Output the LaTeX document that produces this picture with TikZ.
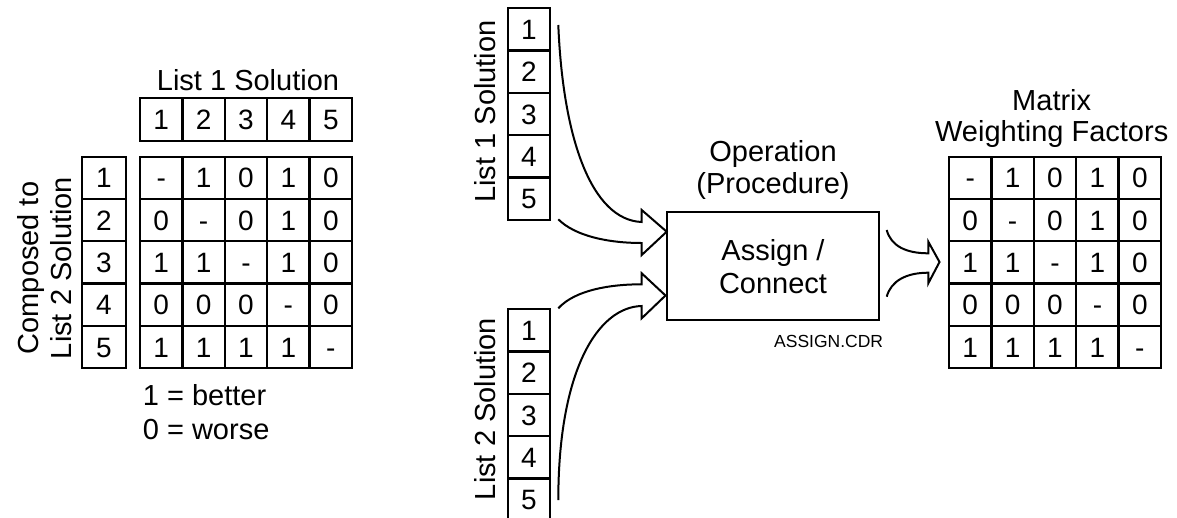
\documentclass[tikz,border=0pt]{standalone}
\usepackage{fontspec}
\setmainfont{Liberation Sans}
\begin{document}
\begin{tikzpicture}[x=1pt,y=-1pt,
  lbl/.style={inner sep=0pt,font=\fontsize{29}{34}\selectfont},
  cell/.style={draw,line width=2.3pt,inner sep=0pt,minimum width=42.4pt,minimum height=42.3pt,text height=20pt,text depth=0pt,font=\fontsize{28}{32}\selectfont},
  hcell/.style={cell,minimum height=43.3pt},
  flow/.style={draw,line width=2pt,line join=miter,miter limit=10},
  opbox/.style={draw,line width=2.3pt,inner sep=0pt,minimum width=212pt,minimum height=108pt}]
\useasboundingbox (0,0) rectangle (1177,517);
\clip (0,0) rectangle (1177,517);

% ---------- left comparison matrix ----------
\node[lbl,anchor=base] (t1) at (248,90) {List 1 Solution};
\foreach \c [count=\i from 0] in {1,2,3,4,5}
  \node[hcell] (h\c) at ({161.2+42.4*\i},119.4) {\c};
\foreach \r [count=\j from 0] in {1,2,3,4,5}
  \node[cell,minimum width=43.6pt] (r\r) at (104,{177.85+42.3*\j}) {\r};
\foreach \row [count=\j from 0] in {{-,1,0,1,0},{0,-,0,1,0},{1,1,-,1,0},{0,0,0,-,0},{1,1,1,1,-}}
  \foreach \v [count=\i from 0] in \row
    \node[cell] (m\j\i) at ({161.2+42.4*\i},{177.85+42.3*\j}) {\v};
\node[lbl,anchor=base,rotate=90] (cmp1) at (38.5,268) {Composed to};
\node[lbl,anchor=base,rotate=90] (cmp2) at (71,268) {List 2 Solution};
\node[lbl,anchor=base west] (k1) at (142.7,405) {1 = better};
\node[lbl,anchor=base west] (k0) at (142.7,439.3) {0 = worse};

% ---------- list 1 column ----------
\foreach \r [count=\j from 0] in {1,2,3,4,5}
  \node[cell] (a\r) at (528.9,{29.45+42.3*\j}) {\r};
\node[lbl,anchor=base,rotate=90] (la) at (495,111.5) {List 1 Solution};

% ---------- list 2 column ----------
\foreach \r [count=\j from 0] in {1,2,3,4}
  \node[cell] (b\r) at (528.9,{330.45+42.3*\j}) {\r};
\node[inner sep=0pt,font=\fontsize{28}{32}\selectfont] (b5) at (528.9,500.2) {5};
\coordinate (b5l) at (507.7,479.2);
\coordinate (b5r) at (550.1,479.2);
\draw[line width=2.3pt] (b5l) -- ++(0,45) (b5r) -- ++(0,45);
\node[lbl,anchor=base,rotate=90] (lb) at (495,409) {List 2 Solution};

% ---------- operation box ----------
\node[opbox] (op) at (773.3,266) {};
\node[lbl,anchor=base] (op1) at (773,161.7) {Operation};
\node[lbl,anchor=base] (op2) at (773,193) {(Procedure)};
\node[lbl,anchor=base] (as1) at (773,260.7) {Assign /};
\node[lbl,anchor=base] (as2) at (773,293.3) {Connect};
\node[inner sep=0pt,anchor=base east,font=\fontsize{17.5}{20}\selectfont] (fn) at (883.3,347.3) {ASSIGN.CDR};

% ---------- result matrix ----------
\node[lbl,anchor=base] (mt1) at (1051.7,110) {Matrix};
\node[lbl,anchor=base] (mt2) at (1051.7,141.7) {Weighting Factors};
\foreach \row [count=\j from 0] in {{-,1,0,1,0},{0,-,0,1,0},{1,1,-,1,0},{0,0,0,-,0},{1,1,1,1,-}}
  \foreach \v [count=\i from 0] in \row
    \node[cell] (w\j\i) at ({970.2+42.4*\i},{177.85+42.3*\j}) {\v};

% ---------- fat arrows ----------
\coordinate (s1) at (558.3,25);
\coordinate (s2) at (558.3,219.3);
\draw[flow] (s1) .. controls (563,140) and (592,220) .. (641.7,222)
  -- (641.7,210) -- (666.7,231.7) -- (641.7,255) -- (641.7,243)
  .. controls (608,243) and (575,236) .. (s2);

\coordinate (s3) at (558.3,308.3);
\coordinate (s4) at (558.3,500);
\draw[flow] (s3) .. controls (575,290) and (610,284.3) .. (641.7,284.3)
  -- (641.7,273.3) -- (665.5,295.5) -- (641.7,318.3) -- (641.7,306)
  .. controls (598,307) and (558.3,370) .. (s4);

\coordinate (s5) at (886.7,230);
\coordinate (s6) at (886.7,296.7);
\draw[flow] (s5) .. controls (891,246) and (906,253.3) .. (928.3,253.3)
  -- (928.3,241.7) -- (939.5,262) -- (928.3,283.3) -- (928.3,272.7)
  .. controls (906,272.7) and (891,281) .. (s6);
\end{tikzpicture}
\end{document}
